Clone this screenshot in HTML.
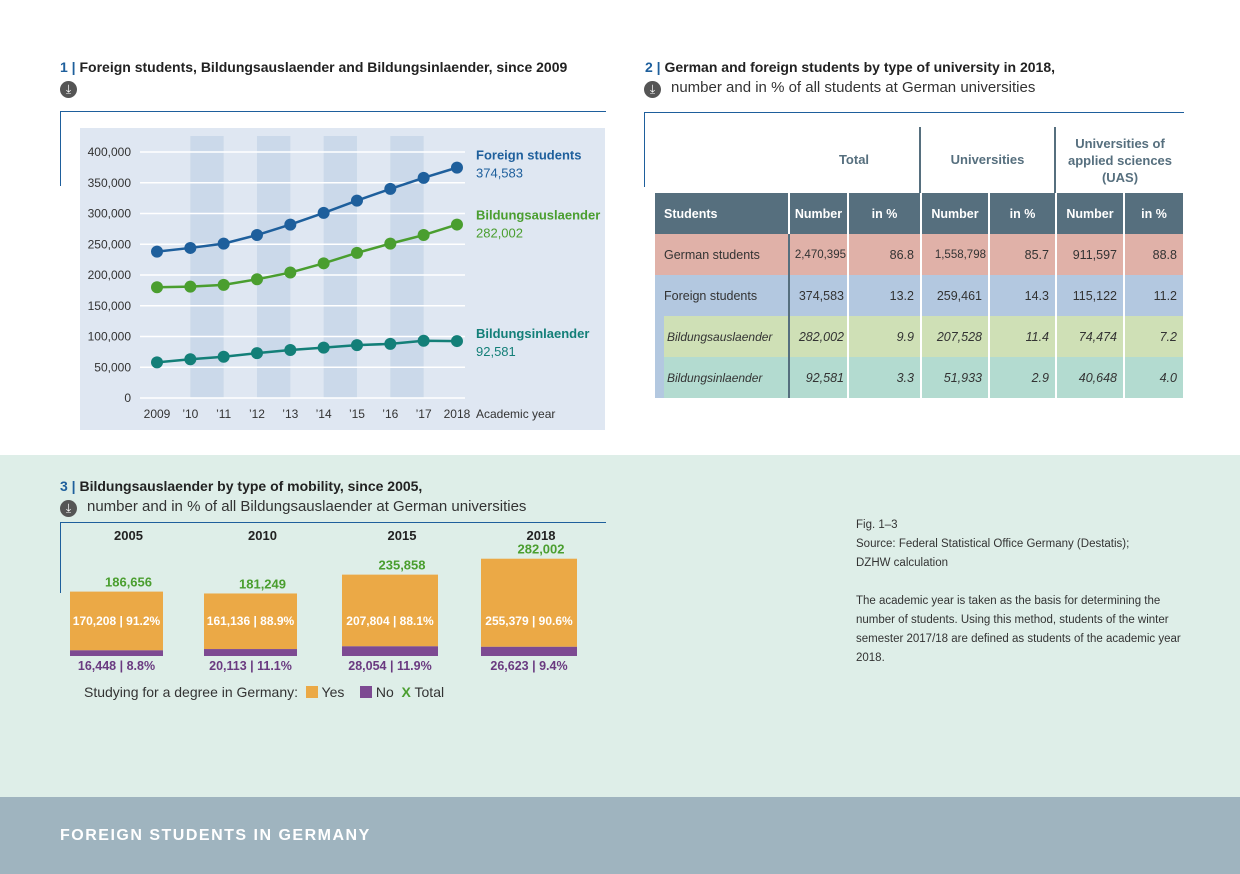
<!DOCTYPE html>
<html><head><meta charset="utf-8">
<style>
body{margin:0;width:1240px;height:874px;position:relative;font-family:"Liberation Sans",sans-serif;background:#fff;overflow:hidden;color:#333}
.abs{position:absolute}
.h{font-size:14px;font-weight:bold;color:#222;white-space:nowrap}
.n{color:#1e5f9c;font-weight:bold}
.sub{font-size:15px;color:#333;white-space:nowrap}
.dl{width:17px;height:17px;border-radius:50%;background:#555;color:#fff;font-size:12px;line-height:17px;text-align:center}
.tbl{position:absolute;left:655px;top:193px;width:528px;display:grid;grid-template-columns:133px 59px 73px 68px 67px 68px 60px;grid-auto-rows:41px;font-size:12.5px}
.tbl div{display:flex;align-items:center;justify-content:flex-end;padding:0 6px;white-space:nowrap;box-sizing:border-box;border-left:2px solid #fff}
.tbl .f{justify-content:flex-start;border-left:0;padding-left:9px}
.tbl .d{border-left:2px solid #566f7e;padding:0 3px}
.hd div{background:#566f7e;color:#fff;font-weight:bold;justify-content:center}
.g{background:#e0b1a8}.b{background:#b3c8e0}.a{background:#cfe0b6;font-style:italic}.i{background:#b3dbd0;font-style:italic}
</style></head><body>
<div class="abs" style="left:0;top:455px;width:1240px;height:342px;background:#deeee8"></div>
<div class="abs" style="left:0;top:797px;width:1240px;height:77px;background:#9fb4bf"></div>
<div class="abs" style="left:60px;top:827px;color:#fff;font-weight:bold;font-size:16px;letter-spacing:1.5px">FOREIGN STUDENTS IN GERMANY</div>

<!-- Chart 1 -->
<div class="abs h" style="left:60px;top:59px"><span class="n">1 |</span> Foreign students, Bildungsauslaender and Bildungsinlaender, since 2009</div>
<div class="abs dl" style="left:60px;top:81px">⤓</div>
<div class="abs" style="left:60px;top:111px;width:545px;height:74px;border-top:1.5px solid #1e5f9c;border-left:1.5px solid #1e5f9c"></div>
<svg class="abs" style="left:0;top:0" width="620" height="440" id="c1"></svg>

<!-- Chart 2 -->
<div class="abs h" style="left:645px;top:59px"><span class="n">2 |</span> German and foreign students by type of university in 2018,</div>
<div class="abs dl" style="left:644px;top:81px">⤓</div>
<div class="abs sub" style="left:671px;top:79px">number and in % of all students at German universities</div>
<div class="abs" style="left:644px;top:112px;width:539px;height:74px;border-top:1.5px solid #1e5f9c;border-left:1.5px solid #1e5f9c"></div>
<div class="abs" style="left:919px;top:127px;width:2px;height:66px;background:#566f7e"></div>
<div class="abs" style="left:1054px;top:127px;width:2px;height:66px;background:#566f7e"></div>
<div class="abs" style="left:788px;top:152px;width:132px;text-align:center;font-weight:bold;font-size:13px;color:#566f7e">Total</div>
<div class="abs" style="left:920px;top:152px;width:135px;text-align:center;font-weight:bold;font-size:13px;color:#566f7e">Universities</div>
<div class="abs" style="left:1056px;top:135px;width:128px;text-align:center;font-weight:bold;font-size:13px;color:#566f7e;line-height:17px">Universities of applied sciences (UAS)</div>
<div class="tbl">
<div class="hd f" style="background:#566f7e;color:#fff;font-weight:bold">Students</div><div style="background:#566f7e;color:#fff;font-weight:bold;justify-content:center;padding:0">Number</div><div style="background:#566f7e;color:#fff;font-weight:bold;justify-content:center">in %</div><div style="background:#566f7e;color:#fff;font-weight:bold;justify-content:center">Number</div><div style="background:#566f7e;color:#fff;font-weight:bold;justify-content:center">in %</div><div style="background:#566f7e;color:#fff;font-weight:bold;justify-content:center">Number</div><div style="background:#566f7e;color:#fff;font-weight:bold;justify-content:center">in %</div>
<div class="g f">German students</div><div class="g d" style="font-size:11.5px;padding:0 1px">2,470,395</div><div class="g">86.8</div><div class="g" style="font-size:11.5px;padding:0 2px">1,558,798</div><div class="g">85.7</div><div class="g">911,597</div><div class="g">88.8</div>
<div class="b f">Foreign students</div><div class="b d">374,583</div><div class="b">13.2</div><div class="b">259,461</div><div class="b">14.3</div><div class="b">115,122</div><div class="b">11.2</div>
<div class="a f" style="background:linear-gradient(to right,#b3c8e0 9px,#cfe0b6 9px);padding-left:12px;font-size:12px">Bildungsauslaender</div><div class="a d">282,002</div><div class="a">9.9</div><div class="a">207,528</div><div class="a">11.4</div><div class="a">74,474</div><div class="a">7.2</div>
<div class="i f" style="background:linear-gradient(to right,#b3c8e0 9px,#b3dbd0 9px);padding-left:12px;font-size:12px">Bildungsinlaender</div><div class="i d">92,581</div><div class="i">3.3</div><div class="i">51,933</div><div class="i">2.9</div><div class="i">40,648</div><div class="i">4.0</div>
</div>

<!-- Chart 3 -->
<div class="abs h" style="left:60px;top:478px"><span class="n">3 |</span> Bildungsauslaender by type of mobility, since 2005,</div>
<div class="abs dl" style="left:60px;top:500px">⤓</div>
<div class="abs sub" style="left:87px;top:498px">number and in % of all Bildungsauslaender at German universities</div>
<div class="abs" style="left:60px;top:522px;width:545px;height:70px;border-top:1.5px solid #1e5f9c;border-left:1.5px solid #1e5f9c"></div>
<svg class="abs" style="left:0;top:0" width="620" height="720" id="c3"></svg>
<div class="abs" style="left:84px;top:684px;font-size:14px;white-space:nowrap">Studying for a degree in Germany: <span style="display:inline-block;width:12px;height:12px;background:#eba946;vertical-align:-1px;margin-left:4px"></span> Yes &nbsp;&nbsp;&nbsp;<span style="display:inline-block;width:12px;height:12px;background:#7d4a92;vertical-align:-1px"></span> No &nbsp;<b style="color:#4a9e2f">X</b> Total</div>

<div class="abs" style="left:856px;top:516px;font-size:11.5px;line-height:19px;color:#333;width:330px">Fig. 1–3<br>Source: Federal Statistical Office Germany (Destatis);<br>DZHW calculation<br><br>The academic year is taken as the basis for determining the number of students. Using this method, students of the winter semester 2017/18 are defined as students of the academic year 2018.</div>

<script>
const years=["2009","’10","’11","’12","’13","’14","’15","’16","’17","2018"];
const yTicks=[0,50000,100000,150000,200000,250000,300000,350000,400000];
const foreign=[238000,244000,251000,265000,282000,301000,321000,340000,358000,374583];
const ausl=[180000,181000,184000,193000,204000,219000,236000,251000,265000,282002];
const inl=[58000,63000,67000,73000,78000,82000,86000,88000,93000,92581];
const NS="http://www.w3.org/2000/svg";
function mk(p,t,a){const e=document.createElementNS(NS,t);for(const k in a)e.setAttribute(k,a[k]);p.appendChild(e);return e;}
const c1=document.getElementById('c1');
const X=i=>157+i*33.33, Y=v=>398-v*246/400000;
let bg=mk(c1,'rect',{x:80,y:128,width:525,height:302,fill:'#dfe7f2'});

for(let i=1;i<9;i+=2){let r=mk(c1,'rect',{x:X(i),y:136,width:33.33,height:262,fill:'#cbd9ea'});
}
yTicks.forEach(v=>{let l=mk(c1,'line',{x1:140,x2:465,y1:Y(v),y2:Y(v),stroke:'#fff','stroke-width':1.5});

let t=mk(c1,'text',{x:131,y:Y(v)+4,'text-anchor':'end','font-size':12,fill:'#333'});t.textContent=v.toLocaleString('en-US');
});
years.forEach((y,i)=>{let t=mk(c1,'text',{x:X(i),y:418,'text-anchor':'middle','font-size':12,fill:'#333'});t.textContent=y;
});
let at=mk(c1,'text',{x:476,y:418,'font-size':12,fill:'#333'});at.textContent='Academic year';

[[foreign,'#1e5f9c','Foreign students'],[ausl,'#4a9e2f','Bildungsauslaender'],[inl,'#137f78','Bildungsinlaender']].forEach(([d,c,n])=>{
let p=mk(c1,'polyline',{points:d.map((v,i)=>X(i)+','+Y(v)).join(' '),fill:'none',stroke:c,'stroke-width':2.5});

d.forEach((v,i)=>{let q=mk(c1,'circle',{cx:X(i),cy:Y(v),r:6,fill:c});});
const last=d[d.length-1];
let ly=n==='Foreign students'?Y(last)-8:(n==='Bildungsauslaender'?Y(last)-5:Y(last)-3);
let t=mk(c1,'text',{x:476,y:ly,'font-size':13,'font-weight':'bold',fill:c});t.textContent=n;

let t2=mk(c1,'text',{x:476,y:ly+18,'font-size':13,fill:c});t2.textContent=last.toLocaleString('en-US');
});

const barYears=["2005","2010","2015","2018"];
const yes=[170208,161136,207804,255379];
const no=[16448,20113,28054,26623];
const yesPct=["91.2%","88.9%","88.1%","90.6%"];
const noPct=["8.8%","11.1%","11.9%","9.4%"];
const c3=document.getElementById('c3');
const BX=i=>[70,204,342,481][i], S=0.000345, base=656;
barYears.forEach((y,i)=>{const w=i<2?93:96, tot=yes[i]+no[i];
const hn=no[i]*S, hy=yes[i]*S;
let t=mk(c3,'text',{x:BX(i)+w/2+12,y:540,'text-anchor':'middle','font-size':13,'font-weight':'bold',fill:'#222'});t.textContent=y;

let r=mk(c3,'rect',{x:BX(i),y:base-hn-hy,width:w,height:hy,fill:'#eba946'});

let r2=mk(c3,'rect',{x:BX(i),y:base-hn,width:w,height:hn,fill:'#7d4a92'});

let tt=mk(c3,'text',{x:BX(i)+w/2+12,y:base-hn-hy-5,'text-anchor':'middle','font-size':13,'font-weight':'bold',fill:'#4a9e2f'});tt.textContent=tot.toLocaleString('en-US');

let ty=mk(c3,'text',{x:BX(i)+w/2,y:625,'text-anchor':'middle','font-size':12,'font-weight':'bold',fill:'#fff'});ty.textContent=yes[i].toLocaleString('en-US')+' | '+yesPct[i];

let tn=mk(c3,'text',{x:BX(i)+w/2,y:670,'text-anchor':'middle','font-size':12.5,'font-weight':'bold',fill:'#6a3a80'});tn.textContent=no[i].toLocaleString('en-US')+' | '+noPct[i];
});
</script>
</body></html>
